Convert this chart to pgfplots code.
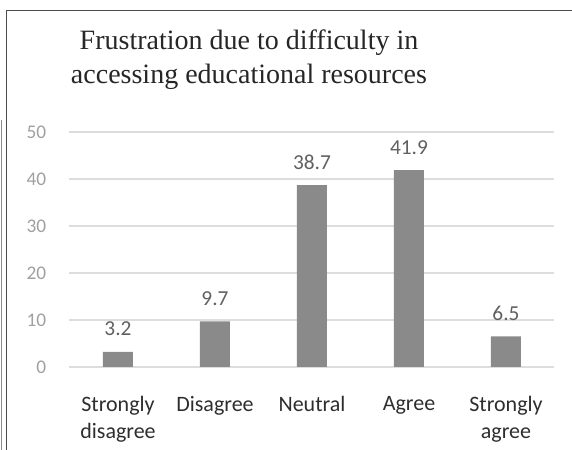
\documentclass[border=0pt]{standalone}
\usepackage{pgfplots}
\pgfplotsset{compat=1.18}
\usepackage{fontspec}
\setmainfont{Carlito}
\newfontfamily\titlefont{Liberation Serif}
\definecolor{bargray}{HTML}{8A8A8A}
\definecolor{gridgray}{HTML}{DDDDDD}
\definecolor{ticklab}{HTML}{A0A0A0}
\definecolor{datalab}{HTML}{606060}
\definecolor{catlab}{HTML}{2E2E2E}
\begin{document}
\begin{tikzpicture}[x=0.75pt,y=0.75pt]
% bounding box in px (y up, origin bottom-left)
\path[use as bounding box] (0,0) rectangle (572,450);
% frame
\draw[color=black!70, line width=1.2pt] (6.5,0) -- (6.5,439.5) -- (572,439.5);
\draw[color=black!45, line width=0.9pt] (1.5,0) -- (1.5,330);
% title
\node[anchor=base, font=\titlefont\fontsize{21}{24}\selectfont, text=black!85] at (249,400) {Frustration due to difficulty in};
\node[anchor=base, font=\titlefont\fontsize{21}{24}\selectfont, text=black!85] at (249,366) {accessing educational resources};
\begin{axis}[
  at={(52.125pt,62.25pt)}, anchor=south west,
  scale only axis, width=363.75pt, height=176.25pt,
  ybar, bar width=22.5pt,
  xmin=-0.5, xmax=4.5, ymin=0, ymax=50,
  ytick={0,10,20,30,40,50},
  xtick={0,1,2,3,4},
  xticklabels={{Strongly\\disagree},{Disagree},{Neutral},{Agree},{Strongly\\agree}},
  xticklabel style={align=center, anchor=north, font=\fontsize{16.5}{20}\selectfont, text=catlab, yshift=-14pt},
  yticklabel style={font=\fontsize{14.5}{16}\selectfont, text=ticklab, xshift=-14pt},
  /pgf/number format/assume math mode=true,
  ymajorgrids, grid style={gridgray, line width=0.8pt},
  axis line style={draw=none},
  major tick style={draw=none},
  nodes near coords,
  nodes near coords style={anchor=base, yshift=12pt, font=\fontsize{16}{18}\selectfont, text=datalab},
  point meta=explicit symbolic,
]
\addplot[fill=bargray, draw=none] coordinates {
  (0,3.2) [3.2]
  (1,9.7) [9.7]
  (2,38.7) [38.7]
  (3,41.9) [41.9]
  (4,6.5) [6.5]
};
\end{axis}
\end{tikzpicture}
\end{document}
